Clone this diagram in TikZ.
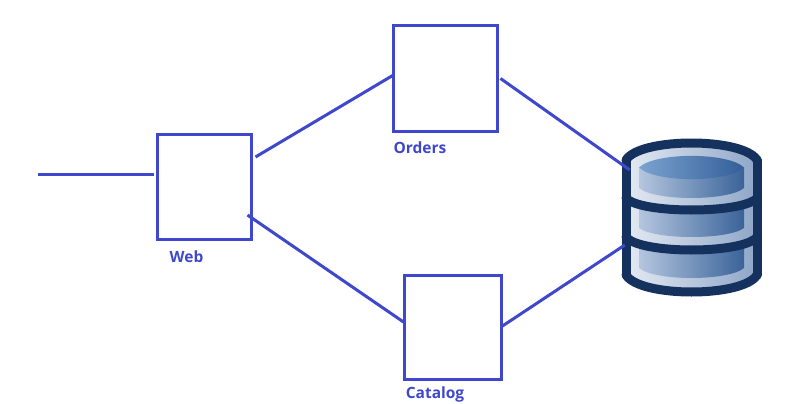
\documentclass[tikz,border=0pt]{standalone}
\usepackage{fontspec}
\setmainfont{Open Sans}
\usetikzlibrary{positioning}
\definecolor{linkblue}{HTML}{3F48CC}
\definecolor{dbnavy}{HTML}{15325F}
\definecolor{dbpale}{HTML}{E4EAF3}
\definecolor{dbmid}{HTML}{8FA6C8}
\definecolor{panelleft}{HTML}{B4C6DF}
\definecolor{panelright}{HTML}{3A6399}
\definecolor{topleft}{HTML}{7BA3D0}
\definecolor{topright}{HTML}{335E98}

% one curved band of the database, sides at #1, middle at #2
\newcommand{\dbband}[2]{
  \draw[band] (626,#1) .. controls (640,{#1+(#2-#1)*4/3}) and (743,{#1+(#2-#1)*4/3}) .. (757,#1);
}
% one inner panel: side top, middle top, side bottom, middle bottom
\newcommand{\dbpanel}[4]{
  \shade[panel] (639,#1) .. controls (655,{#1+(#2-#1)*4/3}) and (728,{#1+(#2-#1)*4/3}) .. (744,#1)
    -- (744,#3) .. controls (728,{#3+(#4-#3)*4/3}) and (655,{#3+(#4-#3)*4/3}) .. (639,#3) -- cycle;
}

\begin{document}
\begin{tikzpicture}[
  x=1pt, y=-1pt,
  box/.style={rectangle, draw=linkblue, line width=3.3pt, fill=white,
              inner sep=0pt, outer sep=0pt},
  link/.style={draw=linkblue, line width=3pt},
  lbl/.style={font=\bfseries\fontsize{15.5}{18}\selectfont, text=linkblue, inner sep=0pt},
  band/.style={draw=dbnavy, line width=9pt, line cap=round},
  panel/.style={left color=panelleft, right color=panelright}
]
  \useasboundingbox (0,0) rectangle (800,404);

  % Boxes
  \node[box, minimum width=94pt, minimum height=105pt] (web) at (204.5,187) {};
  \node[box, minimum width=104pt, minimum height=106pt] (orders) at (445.5,78.5) {};
  \node[box, minimum width=97pt, minimum height=104pt] (catalog) at (453,327.5) {};

  % Labels
  \node[lbl, below=11pt of web.south, xshift=-18pt] (weblbl) {Web};
  \node[lbl, below=10pt of orders.south, xshift=-25.5pt] (orderslbl) {Orders};
  \node[lbl, below=7pt of catalog.south, xshift=-18pt] (cataloglbl) {Catalog};

  % Database
  \node[minimum width=139pt, minimum height=159pt, inner sep=0pt] (db) at (691.5,217.5) {};
  \shade[left color=dbpale, right color=dbmid]
    (626,160) .. controls (640,137) and (743,137) .. (757,160)
    -- (757,275) .. controls (743,299) and (640,299) .. (626,275) -- cycle;
  \dbpanel{167.5}{178}{188}{198}
  \dbpanel{202}{214}{228}{237}
  \dbpanel{241}{254}{268}{278}
  \shade[left color=topleft, right color=topright]
    (639,167.5) .. controls (655,152) and (728,152) .. (744,167.5)
    .. controls (728,183) and (655,183) .. (639,167.5) -- cycle;
  \dbband{160}{143}
  \dbband{198}{210}
  \dbband{237}{250}
  \dbband{275}{292}
  \draw[band] (626,160) -- (626,275);
  \draw[band] (757,160) -- (757,275);

  % Arrows
  \coordinate (entry) at (38,174);
  \draw[link] (entry) -- ([xshift=-4pt,yshift=13pt]web.west);
  \draw[link] ([xshift=4pt,yshift=30pt]web.east) -- ([yshift=3.5pt]orders.west);
  \draw[link] ([xshift=-4pt,yshift=-28pt]web.east) -- ([xshift=-1pt,yshift=5.5pt]catalog.west);
  \draw[link] ([xshift=3pt]orders.east) -- ([xshift=8pt,yshift=47.5pt]db.west);
  \draw[link] ([xshift=1pt,yshift=1.5pt]catalog.east) -- ([xshift=3pt,yshift=-27.5pt]db.west);
\end{tikzpicture}
\end{document}
